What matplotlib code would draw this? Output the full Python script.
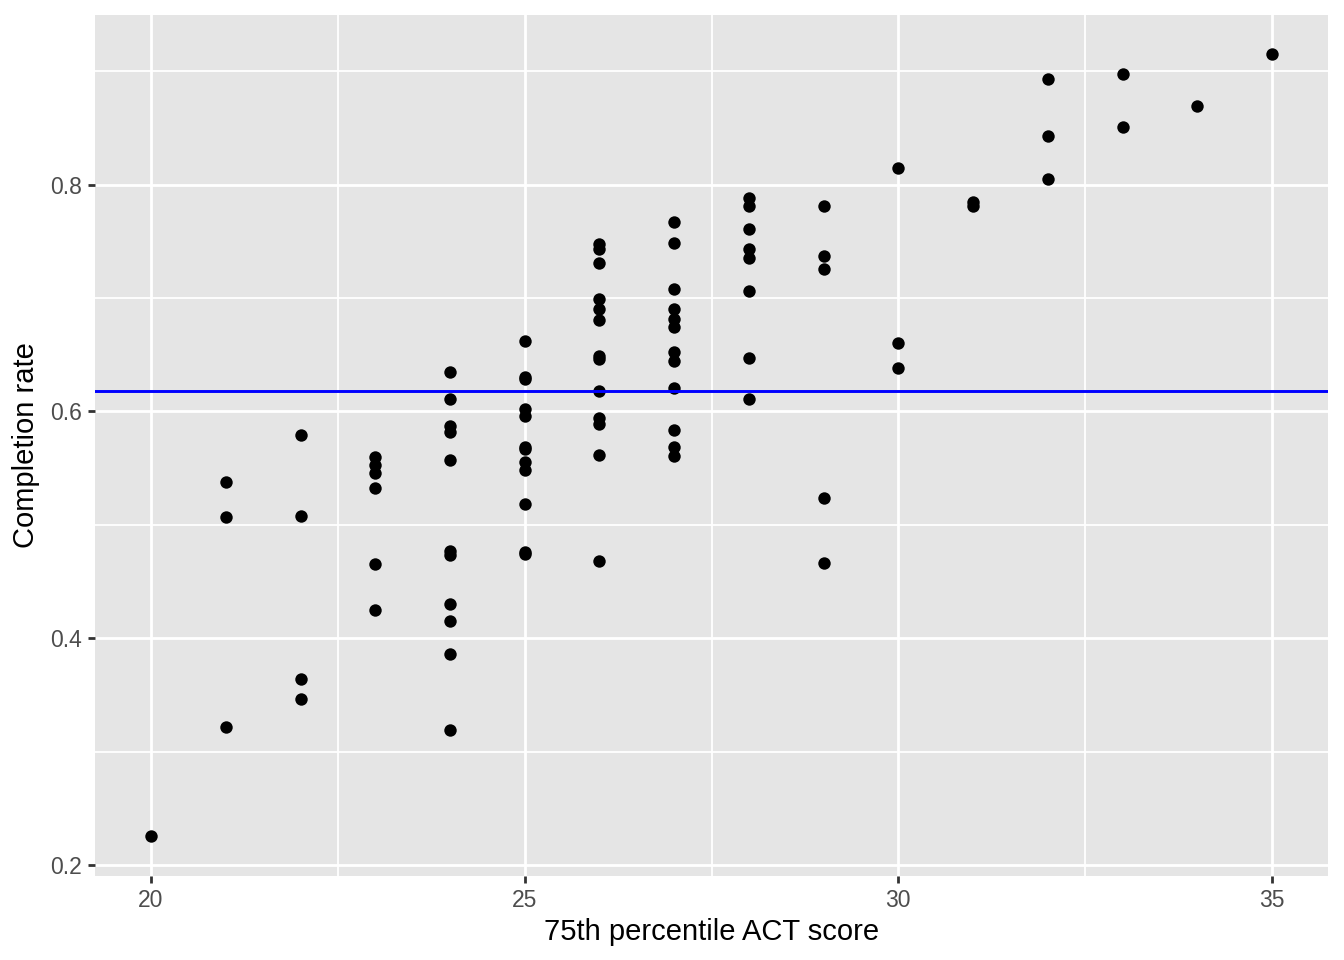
import matplotlib
matplotlib.use("Agg")
import matplotlib.pyplot as plt
from matplotlib.ticker import FixedLocator

plt.rcParams['font.family'] = ['Liberation Sans', 'DejaVu Sans']

act_20 = [0.2256]
act_21 = [0.5374, 0.5066, 0.3216]
act_22 = [0.5789, 0.5075, 0.3639, 0.3463]
act_23 = [0.5595, 0.5524, 0.5462, 0.5325, 0.4652, 0.4247]
act_24 = [0.6352, 0.6106, 0.5868, 0.5815, 0.5568, 0.4767, 0.4731, 0.4300, 0.4150, 0.3859, 0.3189]
act_25 = [0.6617, 0.6300, 0.6282, 0.6018, 0.5960, 0.5687, 0.5665, 0.5551, 0.5480, 0.5185, 0.4762, 0.4740]
act_26 = [0.7478, 0.7433, 0.7307, 0.6993, 0.6905, 0.6808, 0.6493, 0.6464, 0.6179, 0.5945, 0.5892, 0.5612, 0.4678]
act_27 = [0.7668, 0.7486, 0.7081, 0.6899, 0.6817, 0.6743, 0.6522, 0.6449, 0.6209, 0.5833, 0.5685, 0.5604]
act_28 = [0.7881, 0.7815, 0.7611, 0.7436, 0.7352, 0.7063, 0.6471, 0.6109]
act_29 = [0.7808, 0.7374, 0.7258, 0.5234, 0.4662]
act_30 = [0.8142, 0.6604, 0.6383]
act_31 = [0.7850, 0.7815]
act_32 = [0.8926, 0.8426, 0.8051]
act_33 = [0.8973, 0.8507]
act_34 = [0.8690]
act_35 = [0.9149]

columns = {20: act_20, 21: act_21, 22: act_22, 23: act_23, 24: act_24, 25: act_25,
           26: act_26, 27: act_27, 28: act_28, 29: act_29, 30: act_30, 31: act_31,
           32: act_32, 33: act_33, 34: act_34, 35: act_35}

mean_rate = 0.618

x_ticks = [20, 25, 30, 35]
x_labels = ['20', '25', '30', '35']
y_ticks = [0.2, 0.4, 0.6, 0.8]
y_labels = ['0.2', '0.4', '0.6', '0.8']

xs, ys = [], []
for k, vals in columns.items():
    for v in vals:
        xs.append(k)
        ys.append(v)

fig = plt.figure(figsize=(13.44, 9.6), dpi=100)
ax = fig.add_axes([95/1344, 1 - 876/960, (1328 - 95)/1344, (876 - 15)/960])
ax.set_facecolor('#E5E5E5')
for s in ax.spines.values():
    s.set_visible(False)

ax.set_xlim(19.25, 35.75)
ax.set_ylim(0.1906, 0.9494)

ax.xaxis.set_major_locator(FixedLocator(x_ticks))
ax.xaxis.set_minor_locator(FixedLocator([22.5, 27.5, 32.5]))
ax.yaxis.set_major_locator(FixedLocator(y_ticks))
ax.yaxis.set_minor_locator(FixedLocator([0.3, 0.5, 0.7, 0.9]))
ax.set_xticklabels(x_labels)
ax.set_yticklabels(y_labels)

ax.grid(which='major', color='white', linewidth=2.0)
ax.grid(which='minor', color='white', linewidth=1.3)
ax.set_axisbelow(True)

ax.tick_params(which='major', length=5.3, width=2.0, color='#333333',
               labelcolor='#4D4D4D', labelsize=16.5, pad=4.3)
ax.tick_params(which='minor', length=0)

ax.scatter(xs, ys, s=80, color='black', linewidths=0, zorder=3)
ax.axhline(mean_rate, color='#0000FF', linewidth=2.1, zorder=4)

ax.set_xlabel('75th percentile ACT score', fontsize=21, color='black', labelpad=4)
ax.set_ylabel('Completion rate', fontsize=21, color='black', labelpad=7)

fig.savefig('out.png', dpi=100, facecolor='white')
